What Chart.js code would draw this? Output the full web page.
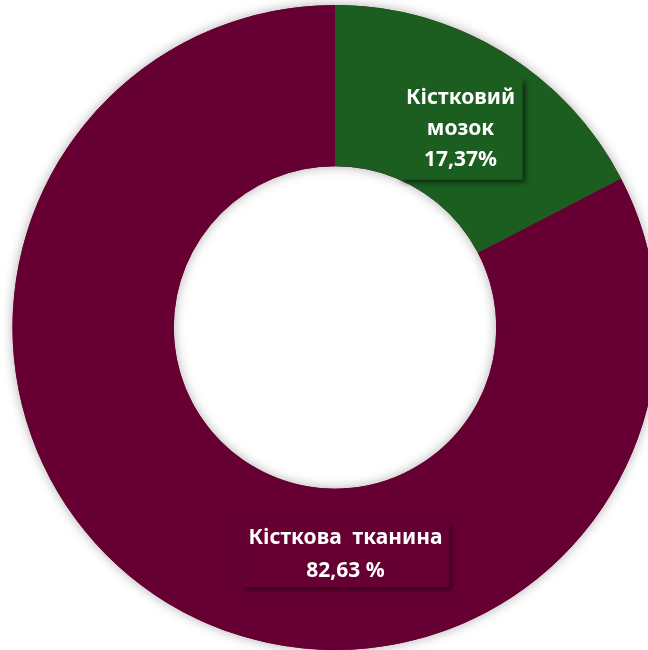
<!DOCTYPE html>
<html lang="uk">
<head>
<meta charset="utf-8">
<title>Склад кістки</title>
<script src="https://cdn.jsdelivr.net/npm/chart.js@4.4.1/dist/chart.umd.min.js"></script>
<style>
  html, body { margin: 0; padding: 0; background: #ffffff; overflow: hidden; }
  #wrap { position: relative; width: 648px; height: 650px; overflow: hidden; }
  #bone-chart { position: absolute; left: 0; top: 0; }
</style>
</head>
<body>
<div id="wrap">
  <canvas id="bone-chart" width="670" height="655"></canvas>
</div>
<script>
// Bone composition — marrow vs. bone tissue, share of total (%)
const labels  = ['Кістковий мозок', 'Кісткова тканина'];
const values  = [17.37, 82.63];
const colors  = ['#1b5e20', '#660033'];

// Text lines drawn above the value line in each label box
const nameLines   = [['Кістковий', 'мозок'], ['Кісткова  тканина']];
const valueSuffix = ['%', ' %'];

(function () {
  'use strict';

  // Label box layout per slice: shift from the slice centroid, box size, line height
  const LABEL_BOX = [
    { dx: 0,   dy: 8,  w: 124, h: 102, lineH: 31 },
    { dx: 136, dy: 20, w: 208, h: 66,  lineH: 33 },
  ];
  const FONT = 'bold 21px "Noto Sans", "Open Sans", sans-serif';

  function fmtPct(v, suffix) {
    return v.toFixed(2).replace('.', ',') + suffix;
  }

  // Soft halo round the whole ring (also shades the rim of the hole)
  const ringShadow = {
    id: 'ringShadow',
    beforeDatasetsDraw(chart) {
      const arcs = chart.getDatasetMeta(0).data;
      if (!arcs.length) return;
      const a = arcs[0];
      const ctx = chart.ctx;
      ctx.save();
      ctx.shadowColor = 'rgba(0,0,0,0.32)';
      ctx.shadowBlur = 12;
      ctx.fillStyle = colors[1];
      ctx.beginPath();
      ctx.arc(a.x, a.y, a.outerRadius, 0, Math.PI * 2);
      ctx.arc(a.x, a.y, a.innerRadius, 0, Math.PI * 2, true);
      ctx.fill('evenodd');
      ctx.restore();
    }
  };

  // Boxed labels with a drop shadow, anchored on each slice's centroid
  const boxLabels = {
    id: 'boxLabels',
    afterDatasetsDraw(chart) {
      const ctx = chart.ctx;
      chart.getDatasetMeta(0).data.forEach((arc, i) => {
        const p = arc.getProps(['x', 'y', 'startAngle', 'endAngle', 'innerRadius', 'outerRadius']);
        const mid = (p.startAngle + p.endAngle) / 2;
        const rad = (p.innerRadius + p.outerRadius) / 2;
        const box = LABEL_BOX[i];
        const cx = p.x + Math.cos(mid) * rad + box.dx;
        const cy = p.y + Math.sin(mid) * rad + box.dy;

        ctx.save();
        ctx.shadowColor = 'rgba(0,0,0,0.55)';
        ctx.shadowBlur = 5;
        ctx.shadowOffsetX = 3;
        ctx.shadowOffsetY = 3;
        ctx.fillStyle = colors[i];
        ctx.fillRect(cx - box.w / 2, cy - box.h / 2, box.w, box.h);
        ctx.restore();

        const lines = nameLines[i].concat([fmtPct(values[i], valueSuffix[i])]);
        ctx.save();
        ctx.font = FONT;
        ctx.fillStyle = '#ffffff';
        ctx.textAlign = 'center';
        ctx.textBaseline = 'middle';
        const top = cy - (lines.length - 1) * box.lineH / 2;
        lines.forEach((t, k) => ctx.fillText(t, cx, top + k * box.lineH));
        ctx.restore();
      });
    }
  };

  new Chart(document.getElementById('bone-chart'), {
    type: 'doughnut',
    data: {
      labels: labels,
      datasets: [{
        data: values,
        backgroundColor: colors,
        borderWidth: 0,
        hoverOffset: 0,
      }],
    },
    options: {
      responsive: false,
      animation: false,
      cutout: '50%',
      layout: { padding: 5 },
      plugins: {
        legend: { display: false },
        tooltip: { enabled: false },
      },
      events: [],
    },
    plugins: [ringShadow, boxLabels],
  });
}());
</script>
</body>
</html>
